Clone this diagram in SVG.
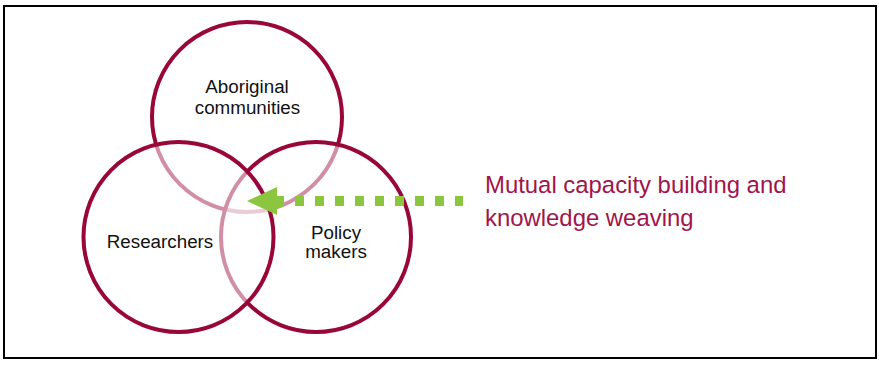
<svg xmlns="http://www.w3.org/2000/svg" width="879" height="365" viewBox="0 0 879 365">
<style>
.ring{fill:#ffffff;fill-opacity:0.55;stroke:#99073a;stroke-width:4}
.lbl{font-family:"Liberation Sans",Arial,sans-serif;font-size:18.8px;fill:#111111;text-anchor:middle}
.note{font-family:"Liberation Sans",Arial,sans-serif;font-size:23.9px;fill:#a0154b}
</style>
<rect x="0" y="0" width="879" height="365" fill="#ffffff"/>
<rect x="4" y="6" width="872" height="352" fill="none" stroke="#000000" stroke-width="2"/>
<g id="aboriginal-communities">
<circle class="ring" cx="247" cy="117" r="95"/>
<text class="lbl" x="247" y="93">Aboriginal</text>
<text class="lbl" x="247.5" y="114">communities</text>
</g>
<g id="policy-makers">
<circle class="ring" cx="316" cy="237" r="95"/>
<text class="lbl" x="336" y="239">Policy</text>
<text class="lbl" x="336" y="258">makers</text>
</g>
<g id="researchers">
<circle class="ring" cx="178.5" cy="237" r="95"/>
<text class="lbl" x="160" y="248">Researchers</text>
</g>
<g id="connectors">
<line x1="295" y1="201" x2="463" y2="201" stroke="#8cc63f" stroke-width="10" stroke-dasharray="9 11"/>
<polygon points="247,201 277,187 277,196 284,196 284,207 277,207 277,215" fill="#8cc63f"/>
</g>
<g id="capacity-label">
<text class="note" x="485" y="193">Mutual capacity building and</text>
<text class="note" x="485" y="226">knowledge weaving</text>
</g>
</svg>
